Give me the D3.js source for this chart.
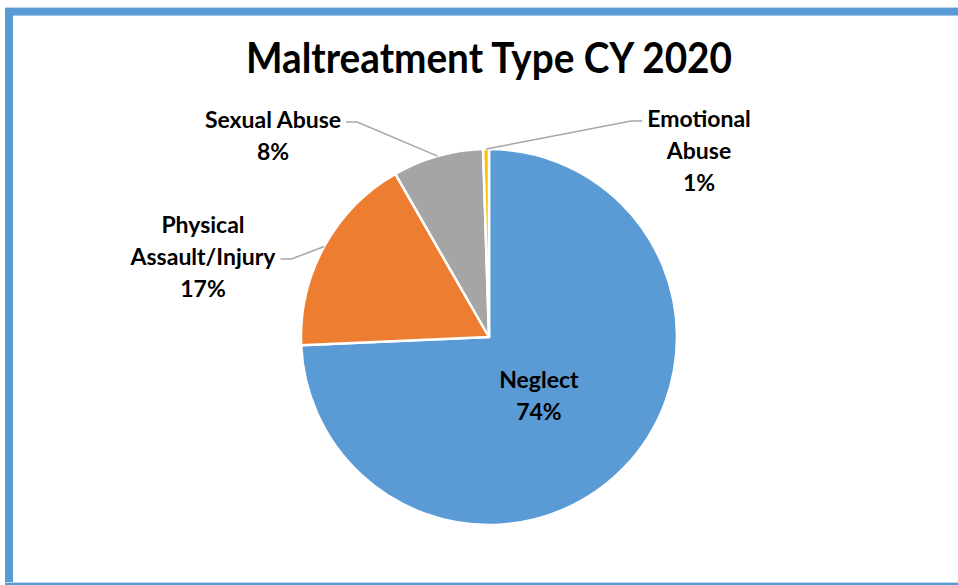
<!DOCTYPE html>
<html>
<head>
<meta charset="utf-8">
<script src="https://cdn.jsdelivr.net/npm/d3@7"></script>
<style>
  html, body { margin: 0; padding: 0; background: #fff; }
  svg { display: block; }
  text { font-family: Lato, "Open Sans", sans-serif; font-weight: 700; fill: #000; }
</style>
</head>
<body>
<svg id="chart"></svg>
<script>
const width = 958
const height = 585

// data
const categories = ['Neglect', 'Physical Assault/Injury', 'Sexual Abuse', 'Emotional Abuse']
const shares = [74.3, 17.4, 7.8, 0.5]
const colors = ['#5b9bd5', '#ed7d31', '#a5a5a5', '#ffc000']
// label lines as Excel wrapped them
const labelLines = [['Neglect'], ['Physical', 'Assault/Injury'], ['Sexual Abuse'], ['Emotional', 'Abuse']]
const titleText = 'Maltreatment Type CY 2020'

// layout
const cx = 489
const cy = 337
const radius = 188
const lineH = 32
const labelSize = 23
// where the outside labels sit (centre x, first baseline y) and which side the leader attaches
const labelAnchor = [null, [203, 233, 'right', 2], [273, 128, 'right', 1], [699, 127, 'left', 1]]

const svg = d3.select('#chart').attr('width', width).attr('height', height)

// frame
svg.append('rect').attr('x', 5).attr('y', 7).attr('width', width - 5).attr('height', 1).attr('fill', '#bdd7ee')
svg.append('rect').attr('x', 5).attr('y', 8).attr('width', width - 5).attr('height', 7).attr('fill', '#5b9bd5')
svg.append('rect').attr('x', 5).attr('y', 15).attr('width', width - 5).attr('height', 1).attr('fill', '#9dc3e6')
svg.append('rect').attr('x', 5).attr('y', 8).attr('width', 8).attr('height', height - 8).attr('fill', '#5b9bd5')
svg.append('rect').attr('x', 5).attr('y', 582).attr('width', width - 5).attr('height', 1).attr('fill', '#bdd7ee')
svg.append('rect').attr('x', 5).attr('y', 583).attr('width', width - 5).attr('height', 2).attr('fill', '#5b9bd5')

svg.append('text')
  .attr('x', cx)
  .attr('y', 73)
  .attr('text-anchor', 'middle')
  .attr('font-size', 42)
  .attr('font-weight', 900)
  .attr('textLength', 486)
  .attr('lengthAdjust', 'spacingAndGlyphs')
  .text(titleText)

const data = categories.map((c, i) => ({ name: c, value: shares[i], i }))

const pie = d3.pie().value(d => d.value).sort(null)
const arcs = pie(data)
const arc = d3.arc().innerRadius(0).outerRadius(radius)
const edgeArc = d3.arc().innerRadius(radius).outerRadius(radius)
const innerArc = d3.arc().innerRadius(radius * 0.5).outerRadius(radius * 0.5)

const g = svg.append('g').attr('transform', `translate(${cx},${cy})`)

g.selectAll('path.slice')
  .data(arcs)
  .enter().append('path')
  .attr('class', 'slice')
  .attr('d', arc)
  .attr('fill', d => colors[d.data.i])
  .attr('stroke', '#fff')
  .attr('stroke-width', 2.5)
  .attr('stroke-linejoin', 'round')

const pct = v => Math.round(v) + '%'

// neglect label inside the slice
const inside = arcs[0]
const [ix, iy] = innerArc.centroid(inside)
const insideText = g.append('text').attr('text-anchor', 'middle').attr('font-size', labelSize)
insideText.append('tspan').attr('x', ix - 18).attr('y', iy - 14).text(labelLines[0][0])
insideText.append('tspan').attr('x', ix - 18).attr('y', iy - 14 + lineH).text(pct(shares[0]))

// outside labels with leader lines
arcs.slice(1).forEach(a => {
  const i = a.data.i
  const [lx, ly, side, lineIdx] = labelAnchor[i]
  const lines = labelLines[i].concat([pct(shares[i])])
  const t = svg.append('text').attr('text-anchor', 'middle').attr('font-size', labelSize)
  lines.forEach((s, k) => {
    t.append('tspan').attr('x', lx).attr('y', ly + k * lineH).text(s)
  })
  // measure the line the leader hooks onto
  const tsp = t.selectAll('tspan').nodes()[lineIdx - 1]
  const w = tsp.getComputedTextLength()
  const yy = ly + (lineIdx - 1) * lineH - 6
  const x0 = side === 'right' ? lx + w / 2 + 5 : lx - w / 2 - 5
  const x1 = side === 'right' ? x0 + 11 : x0 - 11
  const [ex, ey] = edgeArc.centroid(a)
  svg.append('polyline')
    .attr('points', [[x0, yy], [x1, yy], [cx + ex, cy + ey]].map(p => p.join(',')).join(' '))
    .attr('fill', 'none')
    .attr('stroke', '#a6a6a6')
    .attr('stroke-width', 1.5)
})
</script>
</body>
</html>
